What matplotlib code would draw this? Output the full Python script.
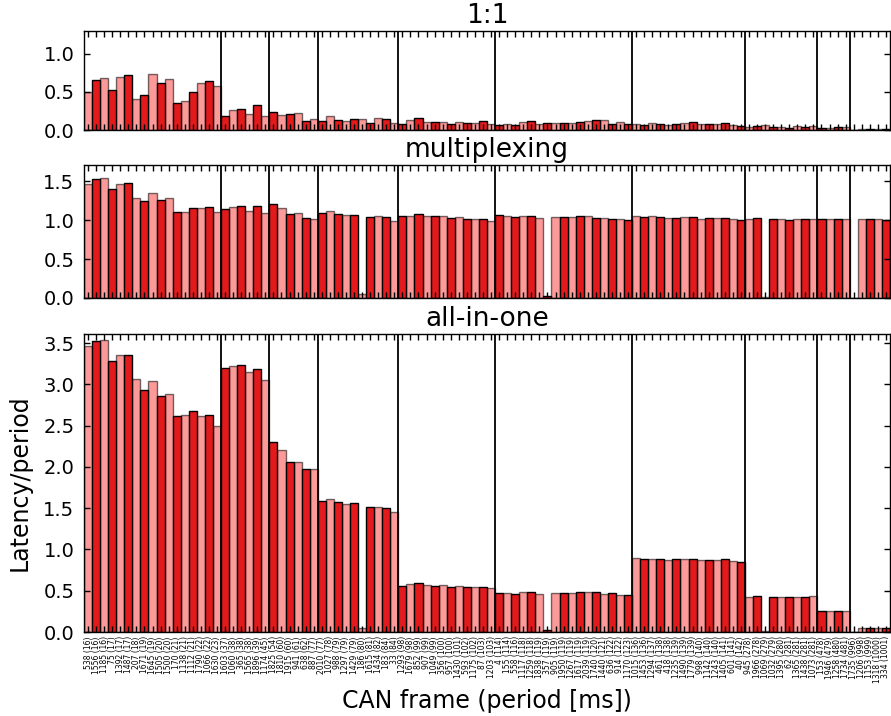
import matplotlib
matplotlib.use("Agg")
import matplotlib.pyplot as plt
import numpy as np

frame_labels = [
    "538 (16)", "1556 (16)", "1185 (16)", "75 (17)", "1392 (17)", "1487 (17)", "207 (18)",
    "1671 (19)", "1645 (19)", "1505 (20)", "1500 (20)", "170 (21)", "1138 (21)", "1112 (21)",
    "1790 (22)", "1066 (22)", "1630 (23)",
    "1603 (37)", "1060 (38)", "365 (38)", "1565 (38)", "1896 (39)", "1174 (45)",
    "1825 (54)", "1810 (60)", "1915 (60)", "941 (61)", "638 (62)", "887 (77)",
    "2010 (77)", "1027 (78)", "988 (79)", "1297 (79)", "1429 (79)", "186 (80)", "1615 (81)",
    "1434 (82)", "183 (84)", "33 (84)",
    "1293 (98)", "1679 (98)", "852 (99)", "907 (99)", "1049 (99)", "356 (100)", "957 (100)",
    "1430 (101)", "593 (102)", "1175 (102)", "87 (103)", "1203 (103)",
    "4 (114)", "155 (114)", "558 (116)", "1117 (118)", "1259 (118)", "1838 (119)", "357 (119)",
    "905 (119)", "1950 (119)", "1267 (119)", "1617 (119)", "2039 (119)", "1740 (120)",
    "1440 (121)", "636 (122)", "914 (122)", "1170 (123)",
    "1015 (136)", "1453 (136)", "1294 (137)", "461 (138)", "418 (138)", "1235 (139)",
    "1490 (139)", "1779 (139)", "998 (140)", "1142 (140)", "1243 (140)", "1405 (141)",
    "601 (141)", "40 (142)",
    "945 (278)", "1966 (278)", "1069 (279)", "1032 (279)", "1395 (280)", "62 (281)",
    "1365 (281)", "1438 (281)", "1073 (281)",
    "153 (478)", "1946 (479)", "1258 (480)", "1734 (481)",
    "1735 (996)", "1206 (998)", "1153 (999)", "1318 (1000)", "334 (1001)",
]

one_to_one = [
    0.50, 0.66, 0.68, 0.53, 0.69, 0.72, 0.41, 0.46, 0.73, 0.62, 0.67, 0.35, 0.38, 0.50, 0.62, 0.65, 0.58,
    0.19, 0.26, 0.28, 0.21, 0.33, 0.19,
    0.23, 0.20, 0.21, 0.22, 0.12, 0.14,
    0.12, 0.18, 0.125, 0.12, 0.14, 0.15, 0.09, 0.155, 0.14, 0.09,
    0.08, 0.13, 0.155, 0.10, 0.10, 0.11, 0.085, 0.11, 0.09, 0.095, 0.115, 0.08,
    0.07, 0.08, 0.07, 0.10, 0.115, 0.08, 0.09, 0.09, 0.095, 0.095, 0.105, 0.115, 0.13, 0.13, 0.08, 0.105, 0.08,
    0.08, 0.065, 0.095, 0.08, 0.065, 0.08, 0.095, 0.10, 0.08, 0.08, 0.085, 0.095, 0.07, 0.05,
    0.04, 0.05, 0.065, 0.04, 0.045, 0.03, 0.05, 0.045, 0.055,
    0.025, 0.025, 0.035, 0.04,
    0.0, 0.015, 0.015, 0.015, 0.015,
]

multiplexing = [
    1.47, 1.53, 1.54, 1.40, 1.47, 1.48, 1.28, 1.25, 1.35, 1.26, 1.28, 1.10, 1.11, 1.16, 1.16, 1.17, 1.11,
    1.15, 1.17, 1.185, 1.125, 1.18, 1.095,
    1.21, 1.155, 1.085, 1.095, 1.03, 1.02,
    1.095, 1.12, 1.08, 1.065, 1.07, 0.056, 1.04, 1.05, 1.04, 0.995,
    1.05, 1.06, 1.08, 1.05, 1.05, 1.05, 1.03, 1.04, 1.02, 1.02, 1.02, 0.995,
    1.07, 1.06, 1.045, 1.05, 1.05, 1.03, 0.02, 1.04, 1.04, 1.045, 1.05, 1.05, 1.03, 1.03, 1.01, 1.01, 1.00,
    1.05, 1.045, 1.05, 1.045, 1.025, 1.03, 1.04, 1.04, 1.02, 1.025, 1.025, 1.025, 1.01, 1.00,
    1.02, 1.025, 0.013, 1.01, 1.01, 1.005, 1.01, 1.01, 1.01,
    1.01, 1.01, 1.01, 1.01,
    0.0, 1.01, 1.01, 1.01, 1.00,
]

all_in_one = [
    3.46, 3.52, 3.54, 3.28, 3.35, 3.36, 3.06, 2.93, 3.04, 2.86, 2.88, 2.62, 2.63, 2.68, 2.62, 2.63, 2.49,
    3.20, 3.22, 3.23, 3.15, 3.18, 3.05,
    2.30, 2.20, 2.06, 2.06, 1.98, 1.97,
    1.585, 1.61, 1.57, 1.55, 1.56, 0.045, 1.52, 1.52, 1.50, 1.45,
    0.556, 0.577, 0.589, 0.565, 0.56, 0.565, 0.548, 0.556, 0.54, 0.54, 0.548, 0.528,
    0.476, 0.472, 0.46, 0.48, 0.484, 0.46, 0.02, 0.468, 0.468, 0.472, 0.48, 0.484, 0.484, 0.46, 0.468, 0.45, 0.448,
    0.895, 0.883, 0.89, 0.883, 0.87, 0.879, 0.887, 0.883, 0.867, 0.875, 0.875, 0.879, 0.863, 0.847,
    0.43, 0.44, 0.012, 0.43, 0.43, 0.423, 0.43, 0.43, 0.435,
    0.25, 0.25, 0.25, 0.25,
    0.0, 0.048, 0.048, 0.048, 0.048,
]

group_ends = [17, 23, 29, 39, 51, 68, 82, 91, 95]
titles = ["1:1", "multiplexing", "all-in-one"]
series = [one_to_one, multiplexing, all_in_one]
ylims = [1.3, 1.71, 3.61]
yticks = [[0.0, 0.5, 1.0], [0.0, 0.5, 1.0, 1.5], [0.0, 0.5, 1.0, 1.5, 2.0, 2.5, 3.0, 3.5]]

RED = "#e31a1c"
PINK = "#fb9a99"
W, H = 891, 716
fig = plt.figure(figsize=(W / 100, H / 100), dpi=100)
fig.patch.set_facecolor("white")

rects = [(31, 130), (165, 298), (334, 632)]
left_px, right_px = 84, 890

x = np.arange(len(frame_labels))
for i, (vals, title, ylim, yt, (t, b)) in enumerate(zip(series, titles, ylims, yticks, rects)):
    ax = fig.add_axes([left_px / W, 1 - b / H, (right_px - left_px) / W, (b - t) / H])
    v = np.array(vals)
    even = x % 2 == 0
    ax.bar(x[even], v[even], width=1.0, color=PINK, edgecolor=(0, 0, 0, 0.55), linewidth=1.0)
    ax.bar(x[~even], v[~even], width=1.0, color=RED, edgecolor="black", linewidth=1.0)
    for g in group_ends:
        ax.axvline(g - 0.5, color="black", linewidth=1.3)
    ax.set_xlim(-0.5, len(frame_labels) - 0.5)
    ax.set_ylim(0, ylim)
    ax.set_yticks(yt)
    ax.set_yticklabels([f"{y:.1f}" for y in yt], fontsize=14)
    ax.set_xticks(x)
    ax.tick_params(axis="both", direction="in", top=True, right=True, length=4, width=1)
    ax.tick_params(axis="y", pad=7)
    if i < 2:
        ax.set_xticklabels([])
    else:
        ax.set_xticklabels(frame_labels, rotation=90, fontsize=5.5)
        ax.tick_params(axis="x", pad=3)
        ax.set_xlabel("CAN frame (period [ms])", fontsize=17)
        ax.set_ylabel("Latency/period", fontsize=17, labelpad=8)
    ax.set_title(title, fontsize=19)
    for s in ax.spines.values():
        s.set_linewidth(1.0)

fig.savefig("out.png", dpi=100, facecolor="white")
